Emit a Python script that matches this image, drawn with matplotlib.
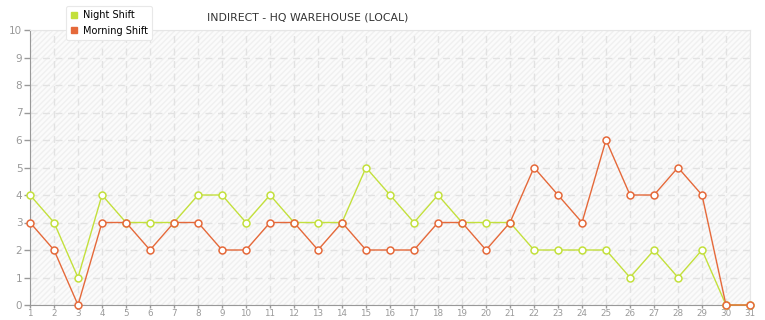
import matplotlib
matplotlib.use("Agg")
import matplotlib.pyplot as plt
from matplotlib.patches import Rectangle
from matplotlib.lines import Line2D

days = list(range(1, 32))
night_shift = [4, 3, 1, 4, 3, 3, 3, 4, 4, 3, 4, 3, 3, 3, 5, 4, 3, 4, 3, 3,
               3, 2, 2, 2, 2, 1, 2, 1, 2, 0, 0]
morning_shift = [3, 2, 0, 3, 3, 2, 3, 3, 2, 2, 3, 3, 2, 3, 2, 2, 2, 3, 3, 2,
                 3, 5, 4, 3, 6, 4, 4, 5, 4, 0, 0]
series_names = ["Night Shift", "Morning Shift"]

green = "#c3e03c"
orange = "#e5693a"

fig = plt.figure(figsize=(7.65, 3.2), dpi=100)
ax = fig.add_axes([30 / 765, 15 / 320, 720 / 765, 275 / 320])
ax.set_facecolor("#fbfbfb")

# faint diagonal stripes behind the plot
bg = Rectangle((0, 0), 1, 1, transform=ax.transAxes, facecolor="none",
               edgecolor="#f0f0f0", hatch="//////", linewidth=0, zorder=0)
ax.add_patch(bg)

ax.plot(days, night_shift, color=green, lw=1, marker="o", ms=5,
        mfc="white", mec=green, mew=1.1, zorder=3, clip_on=False)
ax.plot(days, morning_shift, color=orange, lw=1, marker="o", ms=5,
        mfc="white", mec=orange, mew=1.1, zorder=4, clip_on=False)

ax.set_xlim(1, 31)
ax.set_ylim(0, 10)
ax.set_xticks(days)
ax.set_yticks(range(0, 11))
ax.grid(True, color="#e2e2e2", linestyle=(0, (5, 4)), lw=1, zorder=1)
ax.set_axisbelow(True)

for side in ["top", "right"]:
    ax.spines[side].set_color("#e6e6e6")
for side in ["left", "bottom"]:
    ax.spines[side].set_color("#999999")
ax.tick_params(axis="y", colors="#999999", labelsize=7.5, length=4, width=1,
               labelcolor="#999999", pad=1.5)
# x labels squeezed into the thin strip under the axis
ax.tick_params(axis="x", colors="#999999", labelsize=6.3, length=2.5, width=1,
               labelcolor="#999999", pad=0.5)

fig.text(308 / 765, 1 - 18 / 320, "INDIRECT - HQ WAREHOUSE (LOCAL)",
         ha="center", va="center", fontsize=7.8, color="#333333")

handles = [Line2D([], [], ls="none", marker="s", ms=4, color=green),
           Line2D([], [], ls="none", marker="s", ms=4, color=orange)]
leg = fig.legend(handles, series_names, loc="upper left",
                 bbox_to_anchor=(66 / 765, 1.0 - 6 / 320),
                 fontsize=7, frameon=True, fancybox=True, framealpha=1,
                 edgecolor="#e8e8e8", handlelength=0.7, handletextpad=0.6,
                 borderpad=0.45, labelspacing=0.55, borderaxespad=0)
leg.get_frame().set_linewidth(0.8)

fig.savefig("out.png", dpi=100)
